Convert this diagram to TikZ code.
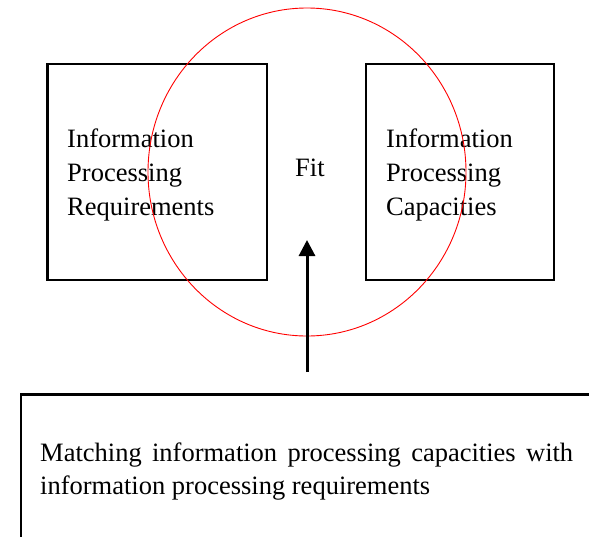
\documentclass[tikz,border=0pt]{standalone}
\usepackage{fontspec}
\setmainfont{Liberation Serif}
\usetikzlibrary{arrows.meta,shapes.geometric}
\tikzset{
  boxshape/.style={draw=black, line width=2.5pt, minimum width=#1, minimum height=216pt, inner sep=0pt},
  lbl/.style={inner sep=0pt, anchor=base west, font=\fontsize{26.5}{34}\selectfont},
  ring/.style={draw=red, line width=0.9pt, ellipse, inner sep=0pt, minimum width=318pt, minimum height=328pt},
  arrowline/.style={line width=3pt, -{Triangle[length=16pt,width=16pt]}}
}
\begin{document}
\begin{tikzpicture}[x=1pt,y=-1pt]
\useasboundingbox (0,0) rectangle (589,536);
\clip (0,0) rectangle (589,536);
% boxes
\node[boxshape=219.5pt] (req) at (157.25,172) {};
\node[boxshape=188pt] (cap) at (460,172) {};
% labels
\node[lbl] (reqt) at (67,147) {\begin{tabular}[t]{@{}l@{}}Information\\Processing\\Requirements\end{tabular}};
\node[lbl] (capt) at (386,147) {\begin{tabular}[t]{@{}l@{}}Information\\Processing\\Capacities\end{tabular}};
\node[lbl] (fit) at (295,176) {Fit};
% circle
\node[ring] (ring) at (307,172) {};
% bottom box
\node[draw=black, line width=2.5pt, minimum width=640pt, minimum height=200pt, anchor=north west, inner sep=0pt] (match) at (19.5,393) {};
\node[inner sep=0pt, anchor=base west, font=\fontsize{26.5}{33}\selectfont] (matcht) at (40,461)
  {\parbox[t]{533pt}{\tolerance=10000\hbadness=10000\hyphenpenalty=10000\exhyphenpenalty=10000 Matching information processing capacities with information processing requirements}};
% arrow
\coordinate (tail) at (307,372);
\coordinate (tip) at (307,240);
\draw[arrowline] (tail) -- (tip);
\end{tikzpicture}
\end{document}
